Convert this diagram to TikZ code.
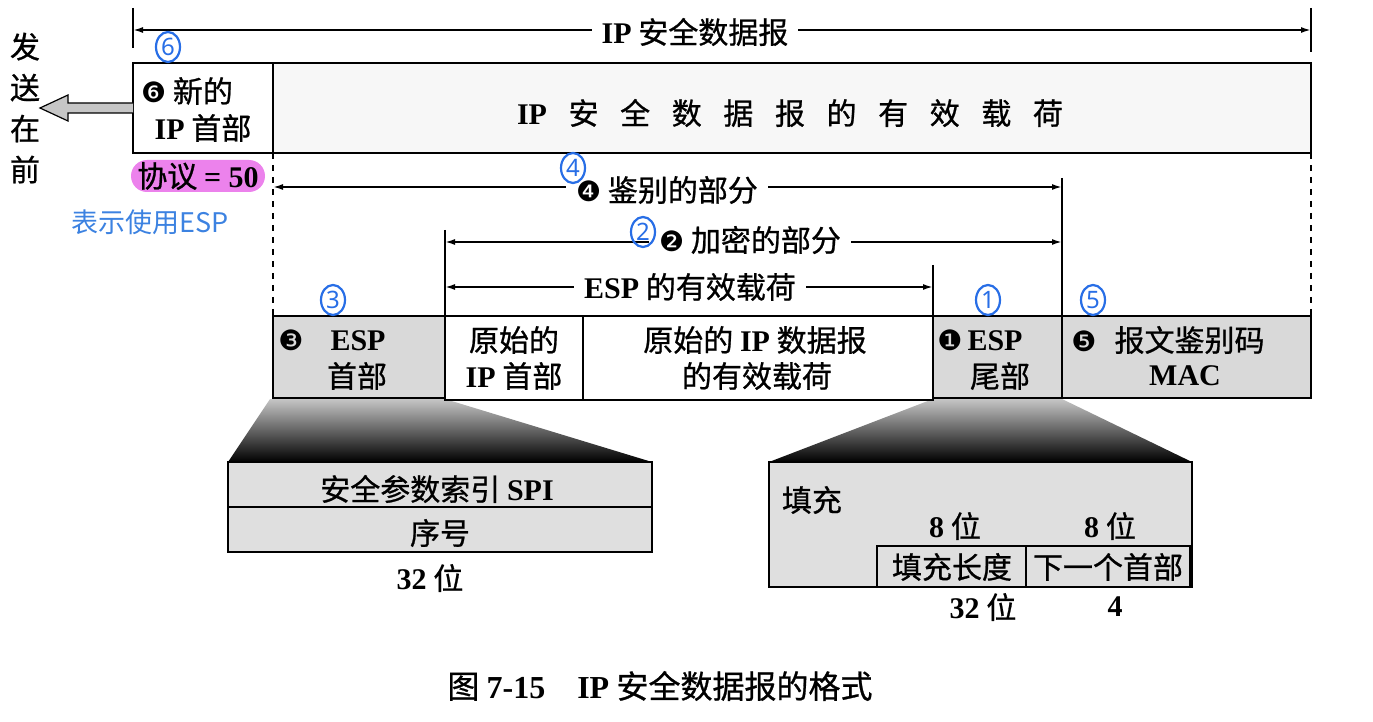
\documentclass[tikz,border=0pt]{standalone}
\usepackage{fontspec}
\setmainfont{Liberation Serif}
\newfontfamily\zhfont[FakeBold=0.8]{Noto Sans CJK SC}
\newfontfamily\zhnote{Noto Sans CJK SC}
\newfontfamily\dvfont{DejaVu Sans}
\newfontfamily\hwfont{Noto Sans}
\usetikzlibrary{arrows.meta,shapes.geometric}
\definecolor{hwblue}{RGB}{40,110,230}
\definecolor{noteblue}{RGB}{60,130,225}
\definecolor{hl}{RGB}{236,130,236}
\newcommand\en[1]{{\rmfamily\bfseries #1}}
\newcommand\bn[1]{{\dvfont\fontsize{14}{15}\selectfont #1}}
\newcommand\gp{\hspace{0.72em}}
\begin{document}
\begin{tikzpicture}[x=0.5pt,y=-0.5pt,
  box/.style={draw=black, line width=1pt},
  lab/.style={font=\zhfont\fontsize{15}{17}\selectfont, inner sep=1pt},
  dimline/.style={line width=0.9pt, {Latex[length=5pt,width=3pt]}-{Latex[length=5pt,width=3pt]}},
  tickline/.style={line width=0.9pt},
  hw/.style={ellipse, draw=hwblue, line width=1.1pt, text=hwblue, font=\hwfont\fontsize{12}{13}\selectfont, inner sep=0pt, minimum width=12pt, minimum height=15pt},
  dimlab/.style={lab, fill=white, inner xsep=5pt, inner ysep=1pt}
]
\useasboundingbox (0,0) rectangle (1373,722);

% ---------- top dimension ----------
\coordinate (ipL) at (133,30);
\coordinate (ipR) at (1311,30);
\draw[tickline] (133,8) -- (133,48);
\draw[tickline] (1311,8) -- (1311,52);
\draw[dimline] (ipL) -- (ipR);
\node[dimlab] (iplab) at (695,32) {\en{IP} 安全数据报};

% ---------- top boxes ----------
\draw[box, fill=gray!6] (273,63) rectangle (1311,153);
\draw[box, fill=white] (133,63) rectangle (273,153);
\node[lab] (newip1) at (187,91) {\bn{❻} 新的};
\node[lab] (newip2) at (203,128) {\en{IP} 首部};
\node[lab] (payload) at (790,113) {\en{IP}\gp 安\gp 全\gp 数\gp 据\gp 报\gp 的\gp 有\gp 效\gp 载\gp 荷};

% send first
\node[lab, align=center, font=\zhfont\fontsize{15}{20.5}\selectfont] (send) at (25,108) {发\\送\\在\\前};
\draw[fill=gray!45, line width=0.6pt] (133,103) -- (68,103) -- (68,95) -- (40,108) -- (68,121) -- (68,113) -- (133,113);

% protocol
\node[fill=hl, rounded corners=8pt, minimum width=67pt, minimum height=16pt, inner sep=0pt, font=\zhfont\fontsize{15}{17}\selectfont] (proto) at (198,176) {协议 \en{= 50}};
\node[font=\zhnote\fontsize{13.5}{15}\selectfont, text=noteblue, inner sep=0pt] (note) at (150,222) {表示使用ESP};

% ---------- dashed extension ----------
\draw[dashed, line width=0.9pt] (273,153) -- (273,316);
\draw[dashed, line width=0.9pt] (1311,153) -- (1311,316);

% ---------- ticks ----------
\draw[tickline] (1062,178) -- (1062,316);
\draw[tickline] (445,230) -- (445,316);
\draw[tickline] (933,265) -- (933,316);

% ---------- dimension arrows ----------
\coordinate (aL) at (273,187); \coordinate (aR) at (1062,187);
\draw[dimline] (aL) -- (aR);
\node[dimlab] (auth) at (667,190) {\bn{❹} 鉴别的部分};
\coordinate (eL) at (445,242); \coordinate (eR) at (1062,242);
\draw[dimline] (eL) -- (eR);
\node[dimlab] (enc) at (750,240) {\bn{❷} 加密的部分};
\coordinate (pL) at (445,287); \coordinate (pR) at (933,287);
\draw[dimline] (pL) -- (pR);
\node[dimlab] (esppay) at (690,287) {\en{ESP} 的有效载荷};

% ---------- trapezoids ----------
\shade[top color=gray!45, bottom color=black] (270,399) -- (445,399) -- (652,462) -- (228,462) -- cycle;
\shade[top color=gray!45, bottom color=black] (933,399) -- (1062,399) -- (1192,462) -- (769,462) -- cycle;

% ---------- ESP row ----------
\draw[box, fill=gray!30] (273,316) rectangle (445,398);
\draw[box, fill=gray!30] (933,316) rectangle (1062,398);
\draw[box, fill=gray!30] (1062,316) rectangle (1311,398);
\draw[box, line width=1.4pt, fill=white] (445,316) rectangle (583,400);
\draw[box, line width=1.4pt, fill=white] (583,316) rectangle (933,400);

\node[lab] (h1) at (332,340) {\bn{❸}\hspace{0.9em}\en{ESP}};
\node[lab] (h2) at (357,376) {首部};
\node[lab] (o1) at (514,340) {原始的};
\node[lab] (o2) at (514,376) {\en{IP} 首部};
\node[lab] (d1) at (755,340) {原始的 \en{IP} 数据报};
\node[lab] (d2) at (757,376) {的有效载荷};
\node[lab] (t1) at (980,340) {\bn{❶}\,\en{ESP}};
\node[lab] (t2) at (1000,376) {尾部};
\node[lab] (m1) at (1168,340) {\bn{❺}\hspace{0.6em}报文鉴别码};
\node[lab] (m2) at (1185,376) {\en{MAC}};

% ---------- ESP header detail ----------
\draw[box, fill=gray!25] (228,462) rectangle (652,507);
\draw[box, fill=gray!25] (228,507) rectangle (652,552);
\node[lab] (spi) at (437,489) {安全参数索引 \en{SPI}};
\node[lab] (seq) at (440,533) {序号};
\node[lab] (w1) at (430,578) {\en{32} 位};

% ---------- ESP trailer detail ----------
\draw[box, fill=gray!25] (769,462) rectangle (1192,587);
\draw[box, fill=gray!25] (877,546) rectangle (1026,587);
\draw[box, fill=gray!25] (1026,546) rectangle (1190,587);
\node[lab] (pad) at (812,500) {填充};
\node[lab] (b1) at (955,526) {\en{8} 位};
\node[lab] (b2) at (1110,526) {\en{8} 位};
\node[lab] (padlen) at (952,567) {填充长度};
\node[lab] (nxt) at (1108,567) {下一个首部};
\node[lab] (w2) at (983,607) {\en{32} 位};
\node[lab] (w3) at (1115,607) {\en{4}};

% ---------- caption ----------
\node[lab, font=\zhfont\fontsize{16}{18}\selectfont] (cap) at (660,686) {图 \en{7-15}\quad \en{IP} 安全数据报的格式};

% ---------- handwritten marks ----------
\node[hw] (m6) at (168,47) {6};
\node[hw] (m4) at (573,168) {4};
\node[hw] (m2hw) at (643,232) {2};
\node[hw] (m3) at (333,300) {3};
\node[hw] (m1hw) at (988,300) {1};
\node[hw] (m5) at (1093,300) {5};
\end{tikzpicture}
\end{document}
